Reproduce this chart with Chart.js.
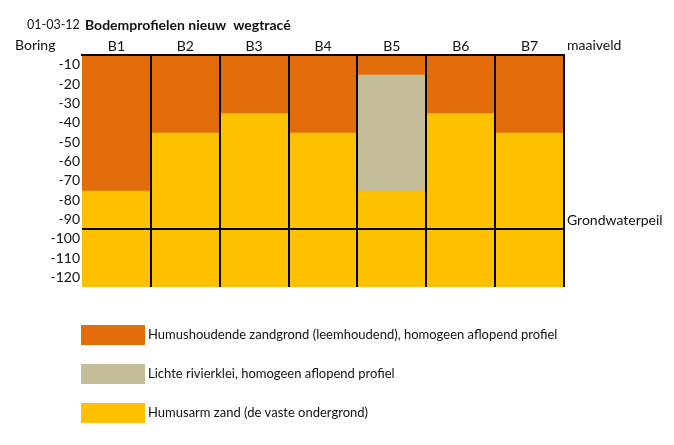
<!DOCTYPE html>
<html>
<head>
<meta charset="utf-8">
<script src="https://cdn.jsdelivr.net/npm/chart.js@4/dist/chart.umd.min.js"></script>
<style>
  html, body { margin: 0; padding: 0; background: #fff; }
  #wrap { width: 674px; height: 445px; position: relative; }
</style>
</head>
<body>
<div id="wrap"><canvas id="chart"></canvas></div>
<script>
// boringen en laagdiktes (onderkant laag in cm onder maaiveld)
const boringen = ['B1', 'B2', 'B3', 'B4', 'B5', 'B6', 'B7'];
const humusTot = [70, 40, 30, 40, 10, 30, 40];
const kleiTot = [0, 0, 0, 0, 70, 0, 0];
const eindDiepte = 120;
const diepteLabels = [-10, -20, -30, -40, -50, -60, -70, -80, -90, -100, -110, -120];
const grondwaterpeil = -90;

const lagen = [
    'Humushoudende zandgrond (leemhoudend), homogeen aflopend profiel',
    'Lichte rivierklei, homogeen aflopend profiel',
    'Humusarm zand (de vaste ondergrond)'
];
const kleuren = ['#E36C0A', '#C4BD97', '#FFC000'];

const datum = '01-03-12';
const titel = 'Bodemprofielen nieuw  wegtracé';

const FONT = 'Lato, "Open Sans", sans-serif';
Chart.defaults.font.family = FONT;
Chart.defaults.font.size = 14;
Chart.defaults.color = '#111';

// floating bars per laag
let humusData = humusTot.map(d => [0, -d]);
let kleiData = kleiTot.map((d, i) => d > humusTot[i] ? [-humusTot[i], -d] : null);
let zandData = humusTot.map((d, i) => [-Math.max(d, kleiTot[i]), -eindDiepte]);

const extraTekst = {
    id: 'extraTekst',
    afterDraw(chart) {
        const ctx = chart.ctx;
        const area = chart.chartArea;
        const y = chart.scales.y;

        // grondwaterlijn
        let gy = Math.round(y.getPixelForValue(grondwaterpeil));
        ctx.save();
        ctx.strokeStyle = '#000';
        ctx.lineWidth = 2;
        ctx.beginPath();
        ctx.moveTo(area.left, gy);
        ctx.lineTo(area.right, gy);
        ctx.stroke();

        ctx.fillStyle = '#111';
        ctx.textBaseline = 'middle';
        ctx.textAlign = 'left';
        ctx.font = '12.5px ' + FONT;
        ctx.fillText(datum, 27, 25);
        ctx.font = '14px ' + FONT;
        ctx.fillText('Boring', 15, 45);
        ctx.fillText('maaiveld', area.right + 3, 45);
        ctx.fillText('Grondwaterpeil', area.right + 3, y.getPixelForValue(grondwaterpeil + 5) + 1);
        ctx.font = 'bold 14px ' + FONT;
        ctx.fillText(titel, 85, 25);

        // legenda
        ctx.font = '13px ' + FONT;
        chart.data.datasets.forEach(function (ds, i) {
            let top = 325 + i * 39;
            ctx.fillStyle = ds.backgroundColor;
            ctx.fillRect(81, top, 64, 20);
            ctx.fillStyle = '#111';
            ctx.fillText(ds.label, 148, top + 10);
        });
        ctx.restore();
    }
};

new Chart(document.getElementById('chart'), {
    type: 'bar',
    data: {
        labels: boringen,
        datasets: [
            { label: lagen[0], data: humusData, backgroundColor: kleuren[0] },
            { label: lagen[1], data: kleiData, backgroundColor: kleuren[1] },
            { label: lagen[2], data: zandData, backgroundColor: kleuren[2] }
        ]
    },
    options: {
        responsive: true,
        maintainAspectRatio: false,
        animation: false,
        layout: { padding: { left: 0, right: 110, top: 0, bottom: 158 } },
        datasets: {
            bar: { barPercentage: 1, categoryPercentage: 1, borderWidth: 0, grouped: false }
        },
        scales: {
            x: {
                position: 'top',
                stacked: true,
                afterFit: function (scale) { scale.height = 55; },
                grid: {
                    z: 1,
                    offset: true,
                    drawTicks: false,
                    lineWidth: 2,
                    color: ctx => ctx.index === 0 ? 'rgba(0,0,0,0)' : '#000'
                },
                border: { display: true, color: '#000', width: 2, z: 2 },
                ticks: { padding: 0, color: '#111' }
            },
            y: {
                min: -eindDiepte,
                max: 0,
                afterFit: function (scale) { scale.width = 82; },
                afterBuildTicks: function (scale) {
                    scale.ticks = diepteLabels.map(v => ({ value: v + 5 }));
                },
                grid: { display: false, drawTicks: false },
                border: { display: false },
                ticks: {
                    padding: 2,
                    color: '#111',
                    callback: (value, index) => diepteLabels[index]
                }
            }
        },
        plugins: {
            legend: { display: false },
            tooltip: { enabled: false }
        }
    },
    plugins: [extraTekst]
});
</script>
</body>
</html>
